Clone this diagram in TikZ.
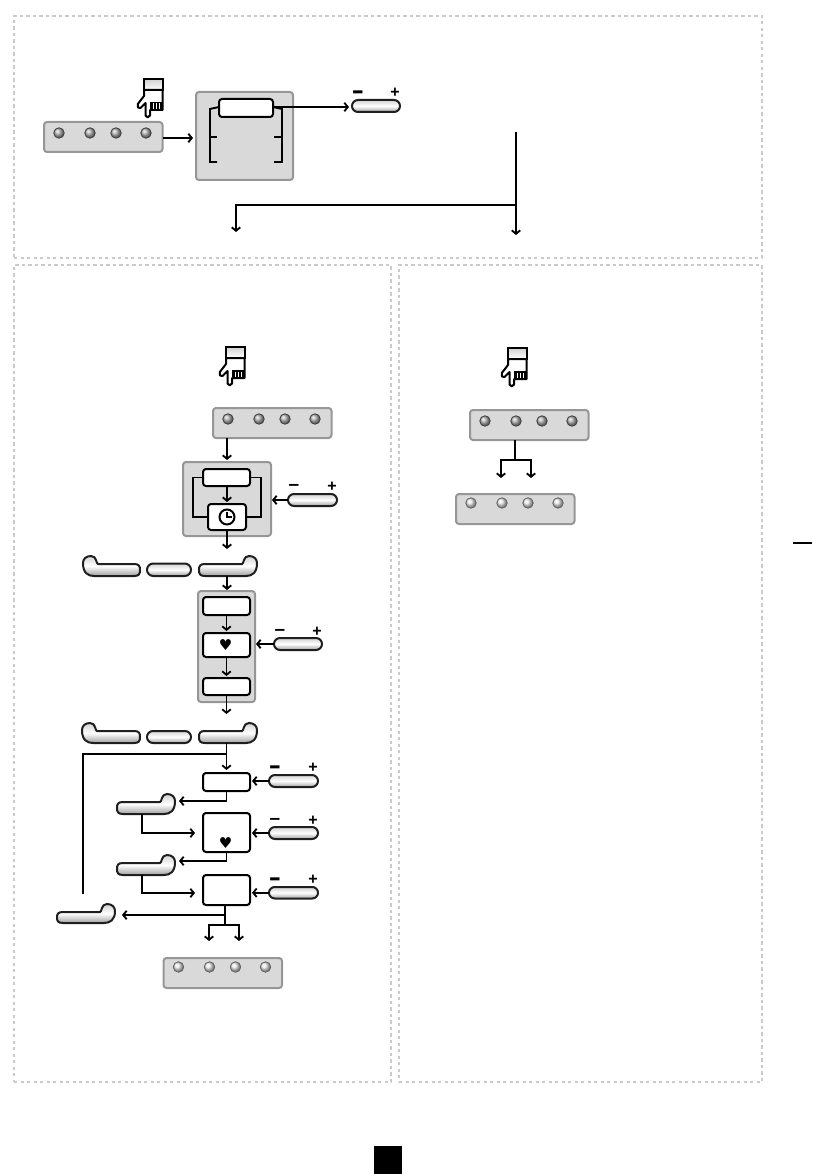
\documentclass[tikz,border=0pt]{standalone}
\usepackage{fontspec}
\usepackage{graphicx}
\setmainfont{Liberation Sans}
\newfontfamily\dvfont{DejaVu Sans}
\usetikzlibrary{arrows.meta,calc,shapes.misc}
\definecolor{pbg}{HTML}{D9D9D9}
\definecolor{pedge}{HTML}{969696}
\definecolor{dots}{HTML}{CACACA}
\tikzset{
  panel/.style={draw=dots,line width=2.4pt,dash pattern=on 3.2pt off 3.3pt},
  grp/.style={draw=pedge,fill=pbg,line width=2pt,rounded corners=3pt,inner sep=0pt,outer sep=0pt},
  wbox/.style={draw=black,fill=white,line width=2pt,rounded corners=3pt,inner sep=0pt,outer sep=0pt},
  pillshape/.style={draw=black!88,line width=2pt,top color=gray!35,bottom color=gray!75,middle color=white},
  pill/.style={rounded rectangle,pillshape,inner sep=0pt,outer sep=0pt},
  led/.style={circle,draw=black!75,line width=.8pt,minimum size=10.5pt,inner sep=0pt,shade,ball color=gray!60},
  ledl/.style={led,draw=black!60,ball color=gray!18},
  ghost/.style={inner sep=0pt,outer sep=0pt},
  conn/.style={draw=black,line width=1.9pt,-{Straight Barb[length=3.5pt,width=8.5pt,line width=1.8pt]}},
  line/.style={draw=black,line width=1.9pt},
  heavy/.style={draw=black,line width=2.8pt},
  heavyarrow/.style={heavy,-{Straight Barb[length=3.5pt,width=8.5pt,line width=1.8pt]}},
  sign/.style={inner sep=0pt,text=black},
  gap/.style={shorten >=2pt},
}
% box from corners: style, name, x0,y0,x1,y1
\newcommand{\cbox}[6]{\node[#1,minimum width={#5-#3},minimum height={#6-#4}] (#2) at ({(#3+#5)/2},{(#4+#6)/2}) {};}
% button with signs: [minus thickness],name,x0,y0,x1,y1, sign y
\newcommand{\signpill}[7][1]{%
  \cbox{pill}{#2}{#3}{#4}{#5}{#6}
  \node[sign,font=\bfseries\fontsize{19}{19}\selectfont] (#2-m) at ({#3+6},{#7+1.5+(#1-1)*4}) {\scalebox{1}[#1]{–}};
  \node[sign,font=\bfseries\fontsize{16}{16}\selectfont] (#2-p) at ({#5-5},{#7+.8}) {+};}
% LED bar: name,x0,y0,style,led y offset
\newcommand{\ledbar}[5]{%
  \cbox{grp}{#1}{#2}{#3}{#2+118.5}{#3+30}
  \foreach \i/\dx in {1/15,2/46,3/72,4/102}
    \node[#4] (#1-\i) at ({#2+\dx},{#3+#5}) {};}
% pill with hump at right: name,x0,x1,ytop,ybottom
\newcommand{\humpright}[5]{%
  \path[pillshape] ({#2+6},#4) -- ({#3-15},#4) .. controls ({#3-13},#4) and ({#3-14},{#4-8}) .. ({#3-8},{#4-8})
    .. controls ({#3-3},{#4-8}) and (#3,{#4-5}) .. (#3,{#4-1}) .. controls (#3,{#5-3}) and ({#3-5},#5) .. ({#3-11},#5)
    -- ({#2+6},#5) .. controls ({#2+1},#5) and ({#2},{#5-2}) .. (#2,{(#4+#5)/2}) .. controls (#2,{#4+2}) and ({#2+1},#4) .. ({#2+6},#4) -- cycle;
  \node[ghost,minimum width={#3-#2},minimum height={#5-#4}] (#1) at ({(#2+#3)/2},{(#4+#5)/2}) {};}
% pill with hump at left: name,x0,x1,ytop,ybottom
\newcommand{\humpleft}[5]{%
  \path[pillshape] ({#3-6},#4) -- ({#2+15},#4) .. controls ({#2+13},#4) and ({#2+14},{#4-8}) .. ({#2+8},{#4-8})
    .. controls ({#2+3},{#4-8}) and (#2,{#4-5}) .. (#2,{#4-1}) .. controls (#2,{#5-3}) and ({#2+5},#5) .. ({#2+11},#5)
    -- ({#3-6},#5) .. controls ({#3-1},#5) and (#3,{#5-2}) .. (#3,{(#4+#5)/2}) .. controls (#3,{#4+2}) and ({#3-1},#4) .. ({#3-6},#4) -- cycle;
  \node[ghost,minimum width={#3-#2},minimum height={#5-#4}] (#1) at ({(#2+#3)/2},{(#4+#5)/2}) {};}
% pointing hand, top left corner at x,y
\newcommand{\handicon}[2]{%
  \begin{scope}[shift={(#1,#2)}]
    \path[draw=black,line width=2pt,top color=gray!35,bottom color=white] (7,1) rectangle (25.5,12);
    \path[draw=black,line width=2pt,fill=white,line join=round] (7,12) -- (7,18) -- (.8,26) -- (1,29.5) -- (3.5,30) -- (8.5,25) -- (8.5,37.5)
      .. controls (9,40) and (12.5,40) .. (13,37.5) -- (13,32) -- (25.5,32) -- (25.5,12) -- cycle;
    \fill[black] (13,24) rectangle (25.5,32);
    \foreach \f in {15.5,18.5,21.5} \fill[white] (\f,25.5) rectangle (\f+1.2,31);
  \end{scope}}
\newcommand{\heartmark}[3]{\node[sign,font=\dvfont\fontsize{15}{15}\selectfont] (#1) at (#2,#3) {♥};}
\begin{document}
\begin{tikzpicture}[x=1pt,y=-1pt,>={Straight Barb}]
\useasboundingbox (0,0) rectangle (812,1174);
% panels
\cbox{panel}{P1}{14}{16}{762}{258}
\cbox{panel}{P2}{14}{265}{391}{1082}
\cbox{panel}{P3}{399}{265}{762}{1082}
% ---- top panel
\handicon{137}{78}
\ledbar{T}{44}{122}{led}{11}
\cbox{grp}{TG}{196}{92}{293}{180}
\cbox{wbox}{TW}{219}{99}{273}{117}
\draw[line] ([yshift=1pt]TW.west) -- (210,109) -- (210,162) -- (217,162);
\draw[line] (210,137) -- (217,137);
\draw[line] ([yshift=1pt]TW.east) -- (282,109) -- (282,162) -- (274,162);
\draw[line] (282,137) -- (274,137);
\signpill[1.6]{TP}{352}{100}{400}{112}{92}
\draw[conn,shorten >=3pt] ([yshift=-1pt]T.east) -- ([yshift=-1pt]T.east -| TG.west);
\draw[heavyarrow,shorten >=3pt] ([yshift=-1pt]TP.west -| TW.east) -- ([yshift=-1pt]TP.west);
\coordinate (TS) at (516,132);
\coordinate (TE) at (516,235);
\coordinate (TJ) at (516,205);
\coordinate (TT) at (236,232);
\draw[heavyarrow] (TS) -- (TE);
\draw[heavyarrow] (TJ) -| (TT);
% ---- left panel
\handicon{219}{346}
\ledbar{A}{213}{408}{led}{11}
\cbox{grp}{AG}{183}{462}{271}{536}
\cbox{wbox}{AW}{203}{469}{250}{486}
\cbox{wbox}{AC}{208}{504}{246}{530}
\node[circle,draw=black,line width=2pt,minimum size=15pt,inner sep=0pt] (clock) at (227,517) {};
\draw[line] (clock.center) ++(0,-5) -- (clock.center) -- ++(4.5,0);
\draw[line] (AW.west) -- (193,477.5) |- (AC.west);
\draw[line] (AW.east) -- (261,477.5) |- (AC.east);
\draw[conn,gap] ([xshift=.5pt]AW.south) -- ([xshift=.5pt]AW.south |- AC.north);
\signpill{AP}{288}{494}{337}{506}{486}
\draw[conn,shorten >=1pt] (AP.west) -- (AP.west -| AG.east);
\coordinate (A1) at (227,460);
\draw[conn] (A.south -| A1) -- (A1);
\humpleft{B1}{83}{140}{564}{576}
\cbox{pill}{B2}{147}{563.5}{191}{576}
\humpright{B3}{199}{257}{564}{576}
\coordinate (A2) at (227,549);
\coordinate (A3) at (227,590);
\draw[conn] (AC.south) -- (A2);
\draw[conn] (B3.south -| A3) -- (A3);
\cbox{grp}{CG}{198}{591}{255}{702}
\cbox{wbox}{C1}{203}{597}{250}{615}
\cbox{wbox}{C2}{203}{633}{250}{657}
\cbox{wbox}{C3}{203}{678}{250}{695}
\heartmark{h1}{225.5}{645}
\draw[conn,gap] (C1.south) -- (C2.north);
\draw[conn,gap] (C2.south) -- (C3.north);
\coordinate (C4) at (226.5,714);
\draw[conn] (C3.south) -- (C4);
\signpill{CP}{274}{638}{322}{650}{631}
\draw[conn,shorten >=1pt] (CP.west) -- (CP.west -| CG.east);
\humpleft{D1}{82}{140}{731}{743}
\cbox{pill}{D2}{147}{731}{191}{743}
\humpright{D3}{199}{257}{731}{743}
\cbox{wbox}{E1}{203}{773}{250}{791}
\draw[conn,shorten >=3pt] (D3.south -| E1.north) -- (E1.north);
\coordinate (LBtm) at (83,894);
\coordinate (LJ) at (226.5,754);
\draw[line] (LJ) -- (83,754) -- (LBtm);
\signpill[1.6]{EP1}{269}{775}{318}{787}{767}
\draw[conn,shorten >=2pt] (EP1.west) -- (EP1.west -| E1.east);
\humpright{F1}{117}{175}{802}{814}
\coordinate (F1T) at (179,801);
\draw[conn] (E1.south) |- (F1T);
\cbox{wbox}{E2}{203}{813}{250}{852}
\heartmark{h2}{225.5}{843}
\signpill{EP2}{269}{827}{318}{839}{820}
\draw[conn,shorten >=2pt] (EP2.west) -- (EP2.west -| E2.east);
\coordinate (F1A) at (195,833);
\coordinate (F1B) at (142,814);
\draw[conn] (F1B) |- (F1A);
\humpright{F2}{117}{175}{863}{875}
\coordinate (F2T) at (179,861);
\draw[conn] (E2.south) |- (F2T);
\cbox{wbox}{E3}{203}{875}{250}{905}
\signpill[1.6]{EP3}{269}{887}{318}{898.5}{879}
\draw[conn,shorten >=2pt] (EP3.west) -- (EP3.west -| E3.east);
\coordinate (F2A) at (195,893);
\coordinate (F2B) at (142,875);
\draw[conn] (F2B) |- (F2A);
\humpright{F3}{57}{115}{912}{923}
\coordinate (F3A) at (122,915);
\coordinate (E3J) at (225,915);
\coordinate (E3K) at (225,925);
\draw[conn] (E3J) -- (F3A);
\draw[line] (E3.south -| E3J) -- (E3K);
\coordinate (FkL) at (209,941);
\coordinate (FkR) at (239,941);
\draw[conn] (E3K) -| (FkL);
\draw[conn] (E3K) -| (FkR);
\ledbar{G}{163.5}{958}{ledl}{9}
% ---- right panel
\handicon{501}{347}
\ledbar{R}{470}{410}{led}{11}
\ledbar{S}{456}{494}{ledl}{9}
\coordinate (RJ) at (515,460);
\draw[line] (R.south -| RJ) -- (RJ);
\coordinate (RL) at (501,478);
\coordinate (RR) at (531,478);
\draw[conn] (RJ) -| (RL);
\draw[conn] (RJ) -| (RR);
% page marks
\fill[black] (374,1146) rectangle (402,1174);
\draw[black,line width=1.2pt] (793,543) -- (812,543);
\end{tikzpicture}
\end{document}
